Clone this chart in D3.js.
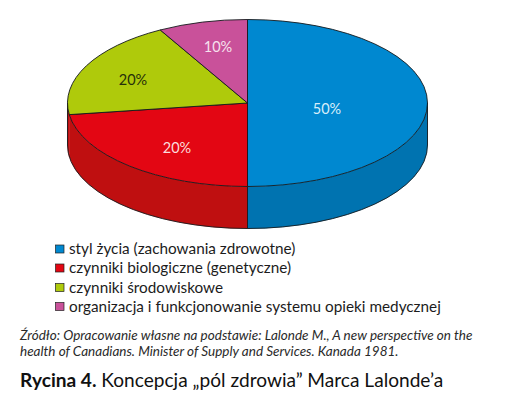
<!DOCTYPE html>
<html><head><meta charset="utf-8">
<script src="https://cdn.jsdelivr.net/npm/d3@7"></script>
<style>html,body{margin:0;padding:0;background:#fff}svg{display:block}text{font-family:Lato,"Open Sans",sans-serif}</style>
</head><body><svg id="c" width="508" height="410"></svg>
<script>
const categories=["styl życia (zachowania zdrowotne)","czynniki biologiczne (genetyczne)","czynniki środowiskowe","organizacja i funkcjonowanie systemu opieki medycznej"];
const values=[50,20,20,10];
const topColors=["#0088d0","#e30613","#afca0b","#c9519a"];
const sideColors=["#0073b0","#bf0f10","#bf0f10","#bf0f10"];
const labelColors=["#d8eefa","#fbdcdc","#26300a","#f6e2ee"];
const source=["Źródło: Opracowanie własne na podstawie: Lalonde M., A new perspective on the","health of Canadians. Minister of Supply and Services. Kanada 1981."];
const titleBold="Rycina 4.";
const titleRest=" Koncepcja „pól zdrowia” Marca Lalonde’a";

const cx=247.5,cy=103,rx=180,ry=83.5,depth=42;
// The drawn pie is foreshortened: cumulative share -> drawn angle (degrees from 12 o'clock, clockwise)
const angle=d3.scaleLinear().domain([0,50,70,90,100]).range([0,180,262,331,360]);
const rad=d=>d*Math.PI/180;
const px=a=>cx+rx*Math.sin(rad(a));
const py=(a,h=0)=>cy-ry*Math.cos(rad(a))+h;
const pie=d3.pie().sort(null).value(d=>d)(values);
const total=d3.sum(values);
const slices=pie.map((p,i)=>{
  const c0=p.startAngle/(2*Math.PI)*total,c1=p.endAngle/(2*Math.PI)*total;
  return {i,a0:angle(c0),a1:angle(c1)};
});
const svg=d3.select("#c");
const line="#14181c";
const g=svg.append("g");
// side walls: visible between 90deg and 270deg
slices.forEach(s=>{
  const a=Math.max(s.a0,90),b=Math.min(s.a1,270);
  if(b<=a)return;
  const d=`M${px(a)},${py(a)}A${rx},${ry} 0 0 1 ${px(b)},${py(b)}L${px(b)},${py(b,depth)}A${rx},${ry} 0 0 0 ${px(a)},${py(a,depth)}Z`;
  g.append("path").attr("d",d).attr("fill",sideColors[s.i]).attr("stroke",sideColors[s.i]).attr("stroke-width",.4);
});
// wall outline
g.append("path").attr("d",`M${px(90)},${py(90)}L${px(90)},${py(90,depth)}A${rx},${ry} 0 0 1 ${px(270)},${py(270,depth)}L${px(270)},${py(270)}M${px(180)},${py(180)}L${px(180)},${py(180,depth)}`)
 .attr("fill","none").attr("stroke",line).attr("stroke-width",.9);
// top face
slices.forEach(s=>{
  const large=s.a1-s.a0>180?1:0;
  const d=`M${cx},${cy}L${px(s.a0)},${py(s.a0)}A${rx},${ry} 0 ${large} 1 ${px(s.a1)},${py(s.a1)}Z`;
  g.append("path").attr("d",d).attr("fill",topColors[s.i]).attr("stroke",line).attr("stroke-width",.9).attr("stroke-linejoin","round");
});
// value labels
const labelPos=[[327,108.5],[177,148],[133,80],[218,47]];
values.forEach((v,i)=>{
  svg.append("text").attr("x",labelPos[i][0]).attr("y",labelPos[i][1]).attr("dy","0.35em").attr("text-anchor","middle")
    .attr("font-size",14.5).attr("fill",labelColors[i]).text(v+"%");
});
// legend
const legendY=[249,268,287.5,306.5];
categories.forEach((c,i)=>{
  svg.append("rect").attr("x",55.5).attr("y",legendY[i]-4).attr("width",8.5).attr("height",8).attr("fill",topColors[i]).attr("stroke","#222").attr("stroke-width",.7);
  svg.append("text").attr("x",69).attr("y",legendY[i]).attr("dy","0.35em").attr("font-size",15.3).attr("fill","#1c1c1c").text(c);
});
// source
source.forEach((t,i)=>{
  svg.append("text").attr("x",20).attr("y",335+i*16.5).attr("dy","0.35em").attr("font-size",13.5).attr("font-style","italic").attr("fill","#2a2a2a").text(t);
});
// title
const tt=svg.append("text").attr("x",20).attr("y",380.5).attr("dy","0.35em").attr("font-size",19.1).attr("fill","#111");
tt.append("tspan").attr("font-weight",700).text(titleBold);
tt.append("tspan").attr("xml:space","preserve").text(titleRest);
</script></body></html>
